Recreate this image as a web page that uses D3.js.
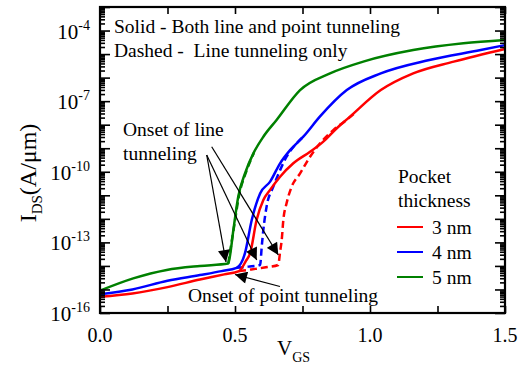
<!DOCTYPE html>
<html>
<head>
<meta charset="utf-8">
<script src="https://cdn.jsdelivr.net/npm/d3@7"></script>
<style>
	body { margin: 0; background: #fff; }
	svg { display: block; }
	svg text { font-family: 'Liberation Serif', serif; }
</style>
</head>
<body>
<svg id="chart"></svg>
<script>
// values are log10(I_DS)
const vRed = [0, 0.12, 0.25, 0.37, 0.46, 0.515, 0.54, 0.556, 0.58, 0.605, 0.63, 0.667, 0.716, 0.778, 0.827, 0.877, 0.92, 1.04, 1.16, 1.31, 1.5];
const logRed = [-15.31, -15.17, -14.9, -14.58, -14.36, -14.22, -13.8, -13.46, -12.05, -11.2, -10.77, -10.21, -9.64, -9.15, -8.72, -8.15, -7.72, -6.53, -5.82, -5.32, -4.78];
const vRedDash = [0.515, 0.56, 0.62, 0.66, 0.667, 0.673, 0.679, 0.691, 0.71, 0.741, 0.778, 0.815, 0.864, 0.907, 0.95];
const logRedDash = [-14.22, -14.15, -14.05, -13.96, -13.4, -12.9, -12.05, -11.34, -10.63, -10.07, -9.36, -8.79, -8.23, -7.85, -7.45];

const vBlue = [0, 0.12, 0.25, 0.37, 0.45, 0.506, 0.537, 0.562, 0.593, 0.63, 0.667, 0.704, 0.753, 0.815, 0.914, 1.04, 1.22, 1.41, 1.5];
const logBlue = [-15.2, -15.0, -14.63, -14.39, -14.22, -14.08, -13.46, -12.05, -10.92, -10.42, -9.64, -9.08, -8.51, -7.65, -6.53, -5.82, -5.25, -4.83, -4.62];
const vBlueDash = [0.506, 0.55, 0.593, 0.599, 0.605, 0.617, 0.642, 0.667, 0.691, 0.72, 0.753];
const logBlueDash = [-14.08, -14.03, -13.96, -13.18, -12.47, -11.48, -10.63, -9.93, -9.36, -8.9, -8.51];

const vGreen = [0, 0.123, 0.247, 0.37, 0.475, 0.481, 0.494, 0.512, 0.537, 0.568, 0.605, 0.654, 0.741, 0.852, 0.975, 1.16, 1.346, 1.5];
const logGreen = [-15.05, -14.53, -14.17, -14.0, -13.9, -13.6, -12.47, -11.06, -10.07, -9.22, -8.51, -7.8, -6.53, -5.82, -5.32, -4.83, -4.54, -4.4];
const vGreenDash = [0.475, 0.483, 0.497, 0.515, 0.54, 0.57];
const logGreenDash = [-13.9, -13.3, -12.3, -11.0, -10.05, -9.2];

const legendLabels = ['3 nm', '4 nm', '5 nm'];
const colors = ['#ff0000', '#0000ff', '#008000'];
const xTickValues = [0, 0.25, 0.5, 0.75, 1.0, 1.25, 1.5];
const xTickLabels = ['0.0', '', '0.5', '', '1.0', '', '1.5'];
const yLabelExponents = [-16, -13, -10, -7, -4];

const width = 523;
const height = 372;
const margin = { top: 7, right: 18, bottom: 59, left: 100 };

const svg = d3.select('#chart')
	.attr('width', width)
	.attr('height', height);

const x = d3.scaleLinear().domain([0, 1.5]).range([margin.left, width - margin.right]);
const y = d3.scaleLog().domain([1e-16, 1e-3]).range([height - margin.bottom, margin.top]);

function toPoints(vs, logs) {
	return vs.map((v, i) => [v, Math.pow(10, logs[i])]);
}

const line = d3.line()
	.x(d => x(d[0]))
	.y(d => y(d[1]))
	.curve(d3.curveMonotoneX);

const series = [
	{ solid: toPoints(vRed, logRed), dash: toPoints(vRedDash, logRedDash) },
	{ solid: toPoints(vBlue, logBlue), dash: toPoints(vBlueDash, logBlueDash) },
	{ solid: toPoints(vGreen, logGreen), dash: toPoints(vGreenDash, logGreenDash) },
];

// dashed under solid
series.forEach((s, i) => {
	svg.append('path')
		.datum(s.dash)
		.attr('d', line)
		.attr('fill', 'none')
		.attr('stroke', colors[i])
		.attr('stroke-width', 2.5)
		.attr('stroke-dasharray', '7,4');
});
series.forEach((s, i) => {
	svg.append('path')
		.datum(s.solid)
		.attr('d', line)
		.attr('fill', 'none')
		.attr('stroke', colors[i])
		.attr('stroke-width', 2.5);
});

// axes
const yMajor = d3.range(-16, -2).map(e => Math.pow(10, e));
const yMinor = [];
d3.range(-16, -3).forEach(e => {
	for (let k = 2; k < 10; k++) yMinor.push(k * Math.pow(10, e));
});

function addY(gen, xpos) {
	svg.append('g')
		.attr('transform', `translate(${xpos},0)`)
		.call(gen.tickValues(yMinor).tickSize(5).tickFormat(''))
		.call(g => g.select('.domain').remove());
	svg.append('g')
		.attr('transform', `translate(${xpos},0)`)
		.call(gen.tickValues(yMajor).tickSize(10).tickFormat(''))
		.call(g => g.select('.domain').remove());
}
addY(d3.axisRight(y), margin.left);
addY(d3.axisLeft(y), width - margin.right);

svg.append('g')
	.attr('transform', `translate(0,${height - margin.bottom})`)
	.call(d3.axisTop(x).tickValues(xTickValues).tickSize(7).tickFormat(''))
	.call(g => g.select('.domain').remove());
svg.append('g')
	.attr('transform', `translate(0,${margin.top})`)
	.call(d3.axisBottom(x).tickValues(xTickValues).tickSize(7).tickFormat(''))
	.call(g => g.select('.domain').remove());

svg.selectAll('.tick line').attr('stroke', '#000').attr('stroke-width', 1.6);

svg.append('rect')
	.attr('x', margin.left)
	.attr('y', margin.top)
	.attr('width', width - margin.left - margin.right)
	.attr('height', height - margin.top - margin.bottom)
	.attr('fill', 'none')
	.attr('stroke', '#000')
	.attr('stroke-width', 2.2);

function addText(str, tx, ty, size) {
	return svg.append('text')
		.attr('x', tx)
		.attr('y', ty)
		.style('font-size', size + 'px')
		.attr('fill', '#000')
		.text(str);
}

// tick labels
xTickValues.forEach((v, i) => {
	if (!xTickLabels[i]) return;
	addText(xTickLabels[i], x(v), 342, 20).attr('text-anchor', 'middle');
});

yLabelExponents.forEach(e => {
	const t = addText('', 90, y(Math.pow(10, e)) + 8, 21).attr('text-anchor', 'end');
	t.append('tspan').text('10');
	t.append('tspan').style('font-size', '14px').attr('dy', -9).text(String(e));
});

// axis titles
const xt = addText('', 277, 355, 21);
xt.append('tspan').text('V');
xt.append('tspan').style('font-size', '14px').attr('dy', 7).text('GS');

const yt = addText('', 0, 0, 24)
	.attr('transform', 'translate(36,173) rotate(-90)')
	.attr('text-anchor', 'middle');
yt.append('tspan').text('I');
yt.append('tspan').style('font-size', '15px').attr('dy', 6).text('DS');
yt.append('tspan').attr('dy', -6).text('(A/\u03bcm)');

// annotations
addText('Solid - Both line and point tunneling', 114, 33, 19.5);
addText('Dashed -\u00a0 Line tunneling only', 114, 57, 19.5);
addText('Onset of line', 123, 136, 19.5);
addText('tunneling', 123, 160, 19.5);
addText('Onset of point tunneling', 188, 302, 19.5);

svg.append('defs').append('marker')
	.attr('id', 'head')
	.attr('viewBox', '0 0 10 10')
	.attr('refX', 10)
	.attr('refY', 5)
	.attr('markerWidth', 13)
	.attr('markerHeight', 12)
	.attr('markerUnits', 'userSpaceOnUse')
	.attr('orient', 'auto')
	.append('path')
	.attr('d', 'M0,0L10,5L0,10Z')
	.attr('fill', '#000');

const arrows = [
	[206.7, 155, 226, 262],
	[206.7, 155, 256.7, 260],
	[211.7, 146.7, 278.3, 255],
	[280, 286.5, 235, 274.5],
];
arrows.forEach(a => {
	svg.append('line')
		.attr('x1', a[0]).attr('y1', a[1])
		.attr('x2', a[2]).attr('y2', a[3])
		.attr('stroke', '#000')
		.attr('stroke-width', 1.2)
		.attr('marker-end', 'url(#head)');
});

// legend
addText('Pocket', 398, 183, 19.5);
addText('thickness', 398, 207, 19.5);
legendLabels.forEach((lab, i) => {
	const ly = 227 + i * 25;
	svg.append('line')
		.attr('x1', 397).attr('x2', 423)
		.attr('y1', ly).attr('y2', ly)
		.attr('stroke', colors[i])
		.attr('stroke-width', 2);
	addText(lab, 432, ly + 7, 19.5);
});
</script>
</body>
</html>
